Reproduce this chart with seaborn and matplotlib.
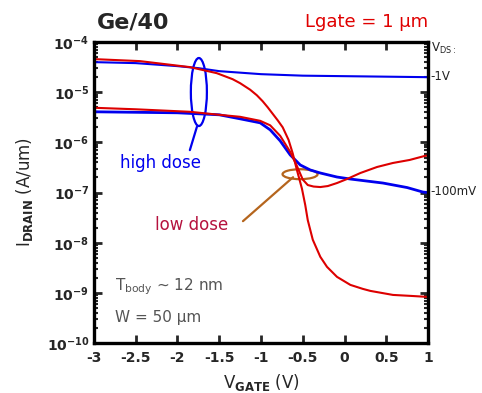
import numpy as np
import pandas as pd
import matplotlib
matplotlib.use("Agg")
import matplotlib.pyplot as plt
from matplotlib.patches import Ellipse
from matplotlib.ticker import FixedLocator, FixedFormatter, LogLocator, NullFormatter
import seaborn as sns

# ---------------- data (log10 of drain current) ----------------
# red curve that starts high (~4.6e-5) and falls to ~1e-9
v_red_a = [-3.0, -2.45, -1.85, -1.53, -1.34, -1.25, -1.13, -1.05, -0.98, -0.92, -0.86,
           -0.80, -0.74, -0.67, -0.62, -0.57, -0.51, -0.47, -0.44, -0.38, -0.29, -0.21,
           -0.09, 0.07, 0.22, 0.31, 0.58, 0.80, 1.0]
log_red_a = [-4.34, -4.38, -4.50, -4.62, -4.74, -4.82, -4.95, -5.06, -5.18, -5.30, -5.43,
             -5.56, -5.70, -5.95, -6.22, -6.55, -6.92, -7.25, -7.55, -7.94, -8.28, -8.48,
             -8.68, -8.84, -8.92, -8.96, -9.04, -9.06, -9.08]

# red curve that starts lower (~4.9e-6), has a minimum and rises again
v_red_b = [-3.0, -2.5, -1.85, -1.5, -1.25, -1.01, -0.89, -0.77, -0.65, -0.57,
           -0.50, -0.44, -0.37, -0.29, -0.20, -0.09, 0.03, 0.19, 0.39, 0.58, 0.78, 0.96, 1.0]
log_red_b = [-5.31, -5.34, -5.39, -5.45, -5.49, -5.57, -5.66, -5.87, -6.19, -6.47,
             -6.74, -6.85, -6.88, -6.89, -6.87, -6.81, -6.73, -6.61, -6.49, -6.41, -6.35,
             -6.27, -6.26]

# blue, VDS = -1 V
v_blue_1v = [-3.0, -2.5, -2.0, -1.75, -1.5, -1.0, -0.5, 0.0, 0.5, 1.0]
log_blue_1v = [-4.40, -4.42, -4.48, -4.52, -4.58, -4.64, -4.67, -4.68, -4.69, -4.70]

# blue, VDS = -100 mV
v_blue_100mv = [-3.0, -2.5, -2.0, -1.5, -1.25, -1.01, -0.89, -0.77, -0.65, -0.53, -0.41,
                -0.29, -0.09, 0.07, 0.46, 0.75, 0.94, 1.0]
log_blue_100mv = [-5.39, -5.40, -5.41, -5.45, -5.53, -5.61, -5.75, -5.97, -6.25, -6.45, -6.55,
                  -6.61, -6.69, -6.73, -6.81, -6.90, -6.99, -7.00]

x_ticks = [-3, -2.5, -2, -1.5, -1, -0.5, 0, 0.5, 1]
x_tick_labels = ["-3", "-2.5", "-2", "-1.5", "-1", "-0.5", "0", "0.5", "1"]
y_ticks = [1e-10, 1e-9, 1e-8, 1e-7, 1e-6, 1e-5, 1e-4]
y_tick_labels = [r"$\mathbf{10^{-10}}$", r"$\mathbf{10^{-9}}$", r"$\mathbf{10^{-8}}$",
                 r"$\mathbf{10^{-7}}$", r"$\mathbf{10^{-6}}$", r"$\mathbf{10^{-5}}$",
                 r"$\mathbf{10^{-4}}$"]

RED = "#dd0000"
BLUE = "#0000ee"
BROWN = "#b5651d"

# ---------------- figure ----------------
sns.set_style("ticks")
plt.rcParams["font.family"] = ["DejaVu Sans"]

fig = plt.figure(figsize=(4.82, 3.93), dpi=100)
ax = fig.add_axes([0.195, 0.127, 0.693, 0.766])

def draw(v, logi, color, lw=1.5):
    df = pd.DataFrame({"V": v, "I": 10.0 ** np.asarray(logi)})
    sns.lineplot(data=df, x="V", y="I", color=color, lw=lw, ax=ax, sort=False)

draw(v_blue_1v, log_blue_1v, BLUE)
draw(v_blue_100mv, log_blue_100mv, BLUE, lw=2.0)
draw(v_red_a, log_red_a, RED)
draw(v_red_b, log_red_b, RED)

ax.set_yscale("log")
ax.set_xlim(-3, 1)
ax.set_ylim(1e-10, 1e-4)

ax.xaxis.set_major_locator(FixedLocator(x_ticks))
ax.xaxis.set_major_formatter(FixedFormatter(x_tick_labels))
ax.yaxis.set_major_locator(FixedLocator(y_ticks))
ax.yaxis.set_major_formatter(FixedFormatter(y_tick_labels))
ax.yaxis.set_minor_locator(LogLocator(base=10, subs=np.arange(2, 10), numticks=20))
ax.yaxis.set_minor_formatter(NullFormatter())

ax.tick_params(axis="both", which="major", direction="in", length=6, width=2,
               top=True, right=True, labelsize=10)
ax.tick_params(axis="y", which="minor", direction="in", length=3, width=1.5,
               left=True, right=True)
for lab in ax.get_xticklabels():
    lab.set_fontweight("bold")
ax.tick_params(axis="x", pad=6)

for s in ax.spines.values():
    s.set_linewidth(2.4)
    s.set_color("black")

ax.set_xlabel(r"V$_{\mathbf{GATE}}$ (V)", fontsize=12)
ax.xaxis.set_label_coords(0.5, -0.095)
ax.set_ylabel(r"I$_{\mathbf{DRAIN}}$ (A/um)", fontsize=12)
ax.yaxis.set_label_coords(-0.178, 0.5)

# titles
fig.text(0.201, 0.944, "Ge/40", fontsize=16, fontweight="bold", ha="left", va="center")
fig.text(0.888, 0.944, "Lgate = 1 μm", fontsize=13, color="#e00000", ha="right", va="center")

# right side labels
ax.text(1.008, 0.98, r"V$_{\mathregular{DS:}}$", transform=ax.transAxes, fontsize=8.5,
        ha="left", va="center", color="#222222")
ax.text(1.008, 0.887, "-1V", transform=ax.transAxes, fontsize=8.5,
        ha="left", va="center", color="#222222")
ax.text(1.008, 0.502, "-100mV", transform=ax.transAxes, fontsize=8.5,
        ha="left", va="center", color="#222222")

# annotations
ax.add_patch(Ellipse((0.314, 0.834), 0.048, 0.226, transform=ax.transAxes,
                     fill=False, ec=BLUE, lw=1.6))
ax.plot([0.308, 0.287], [0.718, 0.641], transform=ax.transAxes, color=BLUE, lw=1.6)
ax.text(0.198, 0.598, "high dose", transform=ax.transAxes, fontsize=12,
        color=BLUE, ha="center", va="center")

ax.add_patch(Ellipse((0.617, 0.561), 0.105, 0.033, transform=ax.transAxes,
                     fill=False, ec=BROWN, lw=1.6))
ax.plot([0.596, 0.446], [0.551, 0.405], transform=ax.transAxes, color=BROWN, lw=1.6)
ax.text(0.293, 0.392, "low dose", transform=ax.transAxes, fontsize=12,
        color="#b5123e", ha="center", va="center")

ax.text(0.063, 0.186, r"T$_{\mathregular{body}}$ ~ 12 nm", transform=ax.transAxes,
        fontsize=11, color="#555555", ha="left", va="center")
ax.text(0.063, 0.086, "W = 50 μm", transform=ax.transAxes,
        fontsize=11, color="#555555", ha="left", va="center")

fig.savefig("out.png", dpi=100)
